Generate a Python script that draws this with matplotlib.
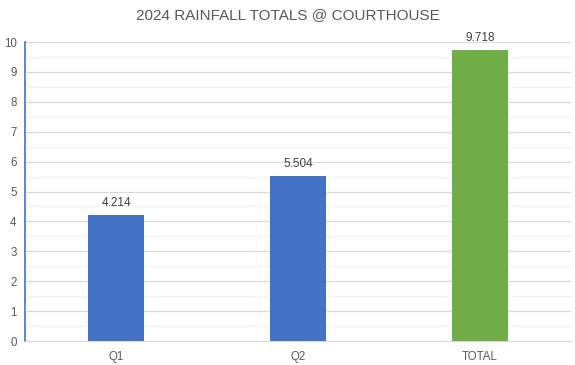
import matplotlib
matplotlib.use('Agg')
import matplotlib.pyplot as plt
import numpy as np

categories = ['Q1', 'Q2', 'TOTAL']
rainfall = [4.214, 5.504, 9.718]
bar_colors = ['#4472c4', '#4472c4', '#70ad47']

plt.rcParams['font.family'] = ['Liberation Sans', 'DejaVu Sans']

fig = plt.figure(figsize=(5.75, 3.65), dpi=100)
ax = fig.add_axes([25 / 575, 24 / 365, 546 / 575, 299 / 365])

x_pos = np.arange(len(categories))
bars = ax.bar(x_pos, rainfall, width=0.31, color=bar_colors, zorder=3)

for b, v in zip(bars, rainfall):
    ax.text(b.get_x() + b.get_width() / 2, v + 0.2, '%.3f' % v,
            ha='center', va='bottom', fontsize=8.5, color='#404040')

ax.set_xlim(-0.5, len(categories) - 0.5)
ax.set_ylim(0, 10)
ax.set_yticks(np.arange(0, 11, 1))
ax.set_yticks(np.arange(0.5, 10, 1), minor=True)
ax.yaxis.grid(True, which='major', color='#d9d9d9', linewidth=0.9, zorder=0)
ax.yaxis.grid(True, which='minor', color='#f2f2f2', linewidth=0.9, zorder=0)
ax.set_axisbelow(True)

ax.set_xticks(x_pos)
ax.set_xticklabels(categories)
ax.tick_params(axis='both', length=0, labelsize=8.3, colors='#595959')
ax.tick_params(axis='y', which='minor', length=0)
ax.tick_params(axis='y', pad=6)
ax.tick_params(axis='x', pad=7)

for s in ['top', 'right']:
    ax.spines[s].set_visible(False)
ax.spines['left'].set_color('#4472c4')
ax.spines['left'].set_linewidth(1.2)
ax.spines['bottom'].set_color('#d9d9d9')

fig.text(0.5, 1 - 15 / 365, '2024 RAINFALL TOTALS @ COURTHOUSE',
         ha='center', va='center', fontsize=11, color='#595959')

plt.savefig('out.png', dpi=100)
